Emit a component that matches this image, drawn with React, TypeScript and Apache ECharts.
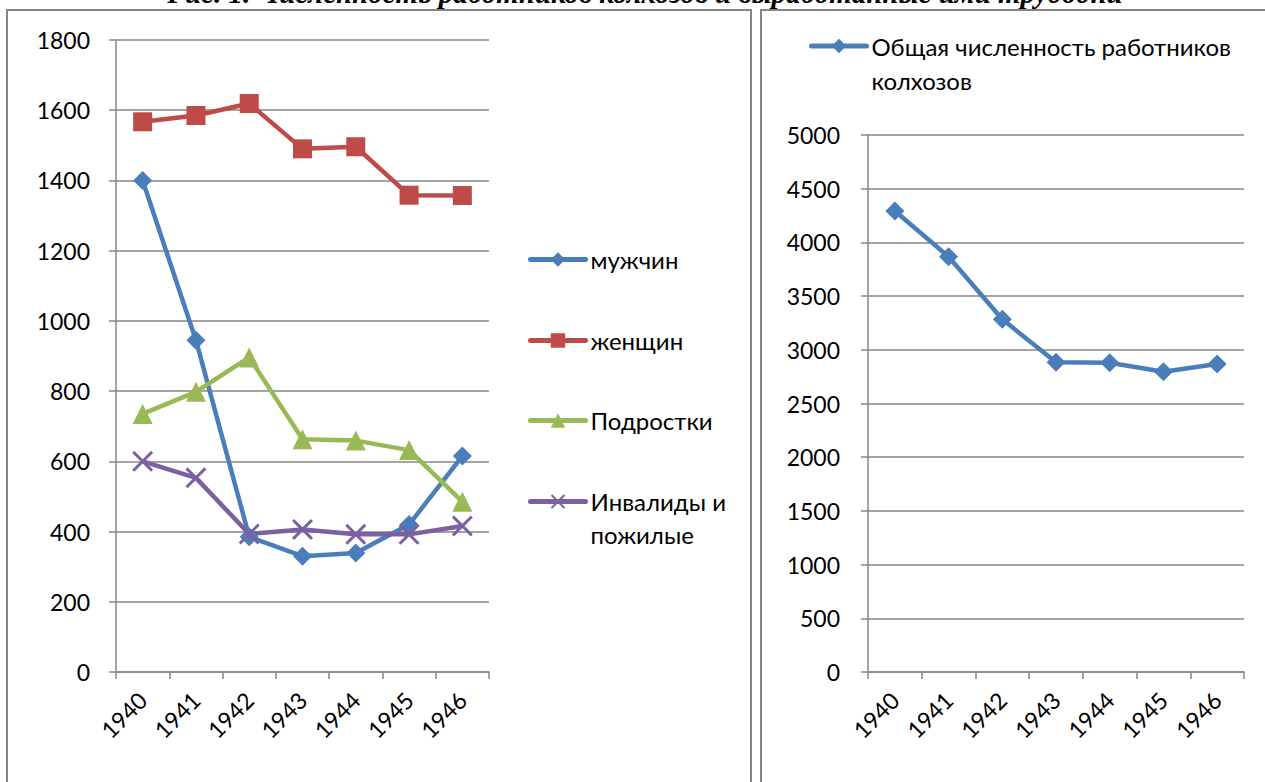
import React, { useEffect, useRef } from "react";
import * as echarts from "echarts";

const years = ["1940", "1941", "1942", "1943", "1944", "1945", "1946"];
const men = [1400, 945, 385, 330, 339, 420, 615];
const women = [1567, 1585, 1619, 1490, 1496, 1358, 1357];
const teens = [735, 798, 896, 663, 659, 632, 485];
const elderly = [600, 553, 393, 406, 392, 392, 416];
const total = [4292, 3867, 3284, 2883, 2880, 2796, 2868];

const leftNames = ["мужчин", "женщин", "Подростки", "Инвалиды и пожилые"];
const rightName = "Общая численность работников колхозов";
const titleText = "Рис. 1. Численность работников колхозов и выработанные ими трудодни";

const FONT = "Lato";
const GRAY = "#868686";
const BLUE = "#4A7EBB";
const RED = "#BE4B48";
const GREEN = "#98B954";
const PURPLE = "#7D60A0";
const CROSS =
  "path://M2,0 L10,8 L18,0 L20,2 L12,10 L20,18 L18,20 L10,12 L2,20 L0,18 L8,10 L0,2 Z";

export default function App() {
  const ref = useRef<HTMLDivElement>(null);
  useEffect(() => {
    document.body.style.margin = "0";
    const chart = echarts.init(ref.current!, null, { renderer: "svg" });
    const catAxis = (gridIndex: number) => ({
      type: "category",
      gridIndex,
      data: years,
      boundaryGap: true,
      axisLine: { lineStyle: { color: GRAY, width: 1.5 } },
      axisTick: { show: true, length: 7, lineStyle: { color: GRAY, width: 1.5 } },
      axisLabel: { rotate: 45, margin: 24, color: "#000", fontFamily: FONT, fontSize: 23 },
    });
    const valAxis = (gridIndex: number, max: number, interval: number, margin: number) => ({
      type: "value",
      gridIndex,
      min: 0,
      max,
      interval,
      axisLine: { show: true, lineStyle: { color: GRAY, width: 1.5 } },
      axisTick: { show: true, length: 7, lineStyle: { color: GRAY, width: 1.5 } },
      splitLine: { show: true, lineStyle: { color: GRAY, width: 1.5 } },
      axisLabel: {
        margin,
        color: "#000",
        fontFamily: FONT,
        fontSize: 23,
        formatter: (v: number) => String(v),
      },
    });
    const legendBase = {
      orient: "vertical",
      itemWidth: 55,
      itemHeight: 18,
      itemGap: 0,
      padding: 0,
      lineStyle: { width: 5, cap: "round" },
      textStyle: { color: "#000", fontFamily: FONT, fontSize: 24, lineHeight: 33 },
    };
    const lineSeries = (name: string, data: number[], color: string, symbol: string, size: number, idx: number) => ({
      type: "line",
      name,
      data,
      xAxisIndex: idx,
      yAxisIndex: idx,
      symbol,
      symbolSize: size,
      lineStyle: { color, width: 4.5 },
      itemStyle: { color, borderColor: color, borderWidth: 0 },
      emphasis: { disabled: true },
    });
    chart.setOption({
      animation: false,
      grid: [
        { left: 116, right: 776, top: 40, bottom: 110 },
        { left: 868, right: 21, top: 135, bottom: 110 },
      ],
      xAxis: [catAxis(0), catAxis(1)],
      yAxis: [valAxis(0, 1800, 200, 26), valAxis(1, 5000, 500, 28)],
      legend: [
        { ...legendBase, data: [leftNames[0]], left: 528, top: 243 },
        { ...legendBase, data: [leftNames[1]], left: 528, top: 324 },
        { ...legendBase, data: [leftNames[2]], left: 528, top: 404 },
        {
          ...legendBase,
          data: [leftNames[3]],
          left: 528,
          top: 452,
          formatter: () => "\nИнвалиды и\nпожилые",
        },
        {
          ...legendBase,
          data: [rightName],
          left: 809,
          top: -5,
          formatter: () => "\nОбщая численность работников\nколхозов",
          textStyle: { ...legendBase.textStyle, lineHeight: 34 },
        },
      ],
      graphic: [
        {
          type: "text",
          style: {
            text: titleText,
            x: 645,
            y: -7,
            fill: "#000",
            font: "italic bold 29px 'Liberation Serif'",
            textAlign: "center",
            textVerticalAlign: "middle",
          },
        },
        {
          type: "rect",
          shape: { x: 7, y: 10, width: 744, height: 800 },
          style: { fill: "none", stroke: GRAY, lineWidth: 2 },
          z: -1,
        },
        {
          type: "rect",
          shape: { x: 761, y: 10, width: 520, height: 800 },
          style: { fill: "none", stroke: GRAY, lineWidth: 2 },
          z: -1,
        },
      ],
      series: [
        lineSeries(leftNames[0], men, BLUE, "diamond", 19, 0),
        lineSeries(leftNames[1], women, RED, "rect", 19, 0),
        lineSeries(leftNames[2], teens, GREEN, "triangle", 20, 0),
        lineSeries(leftNames[3], elderly, PURPLE, CROSS, 21, 0),
        lineSeries(rightName, total, BLUE, "diamond", 19, 1),
      ],
    });
    return () => chart.dispose();
  }, []);
  return <div ref={ref} style={{ width: 1265, height: 782, background: "#fff" }} />;
}
